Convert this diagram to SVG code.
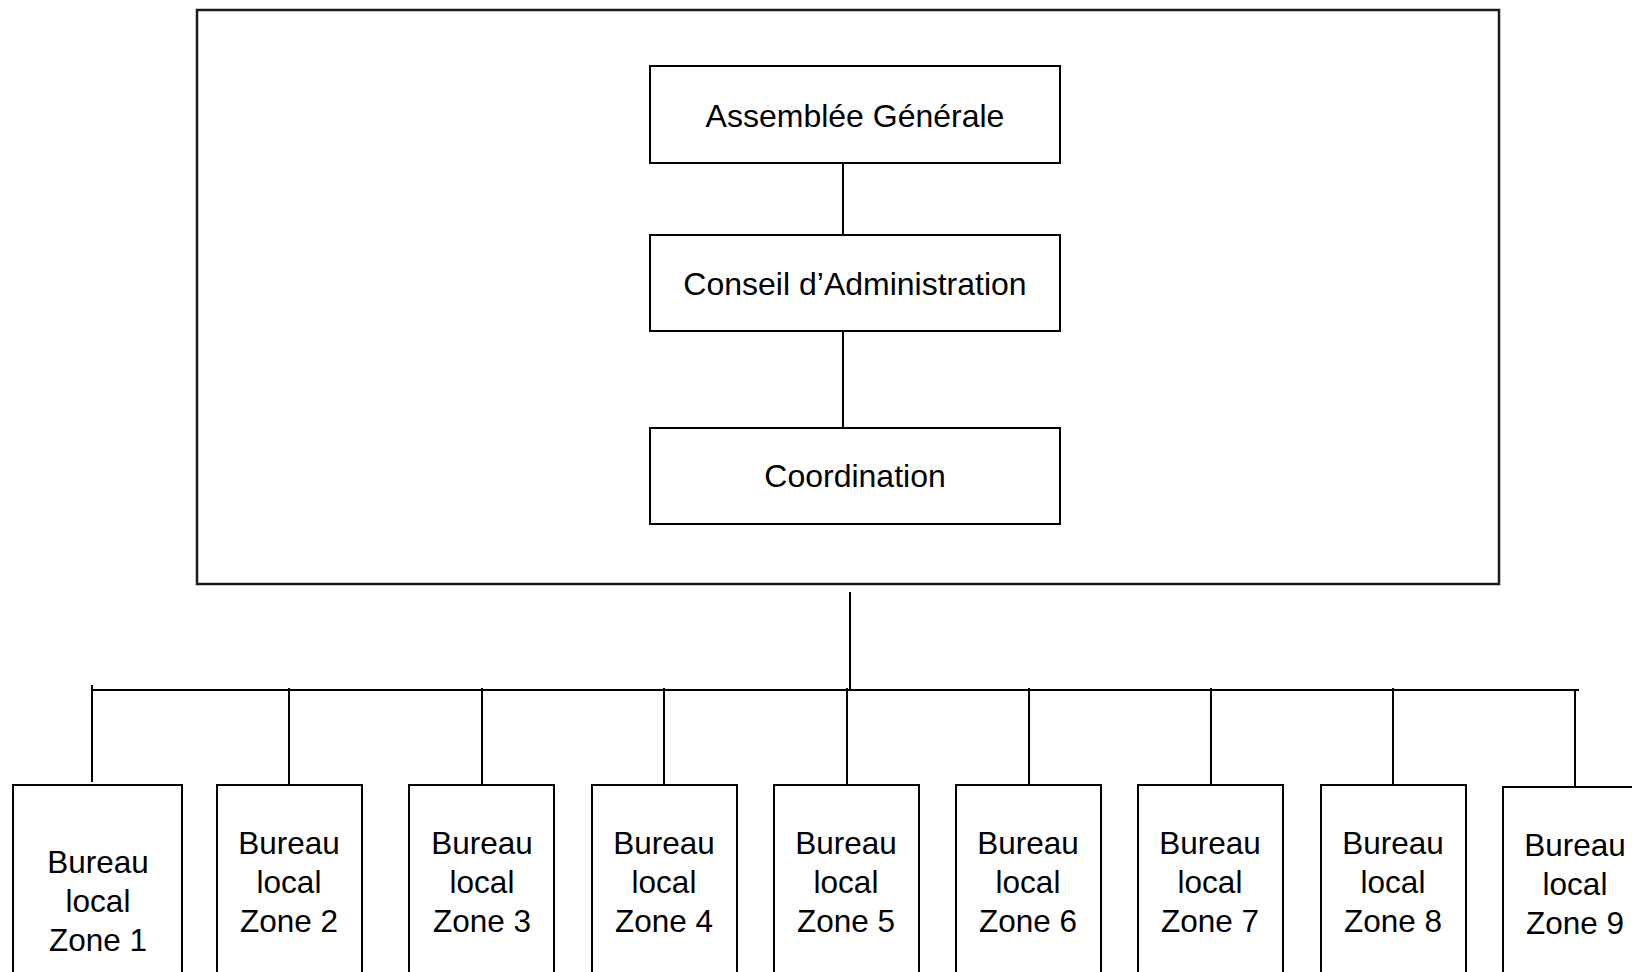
<svg xmlns="http://www.w3.org/2000/svg" width="1632" height="972" viewBox="0 0 1632 972">
<style>
.box{fill:#fff;stroke:#000;stroke-width:2}
.outer{fill:#fff;stroke:#1a1a1a;stroke-width:2.5}
.ln{stroke:#000;stroke-width:2;fill:none}
.t{font-family:"Liberation Sans",Arial,sans-serif;font-size:32px;fill:#000;text-anchor:middle}
.z{font-family:"Liberation Sans",Arial,sans-serif;font-size:31.5px;fill:#000;text-anchor:middle}
</style>
<rect width="1632" height="972" fill="#fff"/>
<g id="outer"><rect class="outer" x="197" y="10" width="1302" height="574"/></g>
<g id="connectors">
<line class="ln" x1="843" y1="163" x2="843" y2="235"/>
<line class="ln" x1="843" y1="331" x2="843" y2="428"/>
<line class="ln" x1="850" y1="592" x2="850" y2="690"/>
<line class="ln" x1="92" y1="690" x2="1579" y2="690"/>
<line class="ln" x1="92" y1="685" x2="92" y2="782"/>
<line class="ln" x1="289" y1="688" x2="289" y2="785"/>
<line class="ln" x1="482" y1="688" x2="482" y2="785"/>
<line class="ln" x1="664" y1="688" x2="664" y2="785"/>
<line class="ln" x1="847" y1="688" x2="847" y2="785"/>
<line class="ln" x1="1029" y1="688" x2="1029" y2="785"/>
<line class="ln" x1="1211" y1="688" x2="1211" y2="785"/>
<line class="ln" x1="1393" y1="688" x2="1393" y2="785"/>
<line class="ln" x1="1575" y1="690" x2="1575" y2="787"/>
</g>
<g id="ag"><rect class="box" x="650" y="66" width="410" height="97"/><text class="t" x="855" y="127">Assemblée Générale</text></g>
<g id="ca"><rect class="box" x="650" y="235" width="410" height="96"/><text class="t" x="855" y="295">Conseil d’Administration</text></g>
<g id="coord"><rect class="box" x="650" y="428" width="410" height="96"/><text class="t" x="855" y="487">Coordination</text></g>
<g id="z1"><rect class="box" x="13" y="785" width="169" height="200"/><text class="z" x="98" y="873">Bureau</text><text class="z" x="98" y="912">local</text><text class="z" x="98" y="951">Zone 1</text></g>
<g id="z2"><rect class="box" x="217" y="785" width="145" height="200"/><text class="z" x="289" y="854">Bureau</text><text class="z" x="289" y="893">local</text><text class="z" x="289" y="932">Zone 2</text></g>
<g id="z3"><rect class="box" x="409" y="785" width="145" height="200"/><text class="z" x="482" y="854">Bureau</text><text class="z" x="482" y="893">local</text><text class="z" x="482" y="932">Zone 3</text></g>
<g id="z4"><rect class="box" x="592" y="785" width="145" height="200"/><text class="z" x="664" y="854">Bureau</text><text class="z" x="664" y="893">local</text><text class="z" x="664" y="932">Zone 4</text></g>
<g id="z5"><rect class="box" x="774" y="785" width="145" height="200"/><text class="z" x="846" y="854">Bureau</text><text class="z" x="846" y="893">local</text><text class="z" x="846" y="932">Zone 5</text></g>
<g id="z6"><rect class="box" x="956" y="785" width="145" height="200"/><text class="z" x="1028" y="854">Bureau</text><text class="z" x="1028" y="893">local</text><text class="z" x="1028" y="932">Zone 6</text></g>
<g id="z7"><rect class="box" x="1138" y="785" width="145" height="200"/><text class="z" x="1210" y="854">Bureau</text><text class="z" x="1210" y="893">local</text><text class="z" x="1210" y="932">Zone 7</text></g>
<g id="z8"><rect class="box" x="1321" y="785" width="145" height="200"/><text class="z" x="1393" y="854">Bureau</text><text class="z" x="1393" y="893">local</text><text class="z" x="1393" y="932">Zone 8</text></g>
<g id="z9"><rect class="box" x="1503" y="787" width="145" height="200"/><text class="z" x="1575" y="856">Bureau</text><text class="z" x="1575" y="895">local</text><text class="z" x="1575" y="934">Zone 9</text></g>
</svg>
